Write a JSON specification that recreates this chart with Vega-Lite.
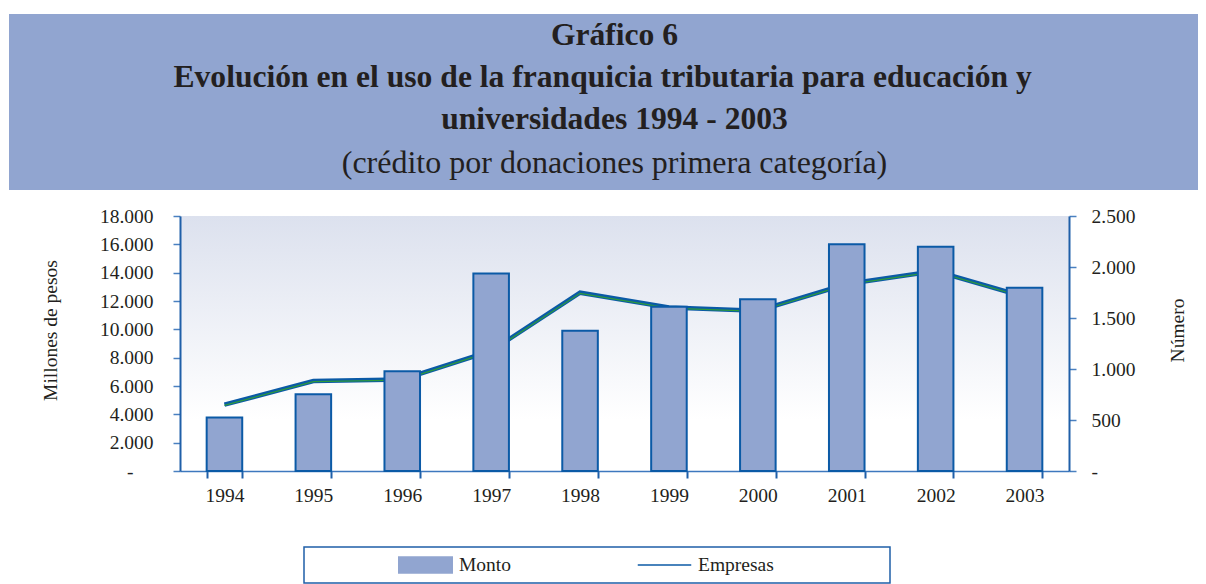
{
  "$schema": "https://vega.github.io/schema/vega-lite/v6.json",
  "padding": {"left": 9, "top": 14, "right": 0, "bottom": 0},
  "background": "white",
  "config": {
    "font": "Liberation Serif",
    "axis": {"labelFont": "Liberation Serif", "titleFont": "Liberation Serif", "labelColor": "#231F20", "titleColor": "#231F20", "labelFontSize": 19.5, "titleFontSize": 19.5, "titleFontWeight": "normal", "grid": false}
  },
  "spacing": 26,
  "bounds": "flush",
  "vconcat": [
    {
      "width": 1189,
      "height": 176,
      "view": {"fill": "#91A5D0", "stroke": null},
      "title": {
        "text": ["Gráfico 6", "Evolución en el uso de la franquicia tributaria para educación y\u00a0\u00a0\u00a0\u200b", "universidades 1994 - 2003"],
        "subtitle": "(crédito por donaciones primera categoría)",
        "orient": "bottom", "anchor": "middle", "frame": "group", "offset": -170, "baseline": "top", "dx": 11,
        "font": "Liberation Serif", "fontSize": 31.6, "fontWeight": "bold", "color": "#231F20", "lineHeight": 42,
        "subtitleFont": "Liberation Serif", "subtitleFontSize": 32, "subtitleFontWeight": "normal", "subtitleColor": "#231F20", "subtitlePadding": 12
      },
      "data": {"values": []},
      "mark": "text"
    },
    {
      "spacing": 0,
      "bounds": "flush",
      "hconcat": [
        {
          "width": 171, "height": 255,
          "view": {"stroke": null, "fill": null},
          "data": {"values": []},
          "mark": "point"
        },
        {
          "width": 889, "height": 255,
          "view": {"stroke": null, "fill": {"gradient": "linear", "x1": 0, "y1": 0, "x2": 0, "y2": 1, "stops": [{"offset": 0, "color": "#DCE1EE"}, {"offset": 0.8, "color": "#FFFFFF"}]}},
          "data": {"values": [
            {"anio": "1994", "monto": 3770, "empresas": 650},
            {"anio": "1995", "monto": 5410, "empresas": 882},
            {"anio": "1996", "monto": 7040, "empresas": 897},
            {"anio": "1997", "monto": 13950, "empresas": 1178},
            {"anio": "1998", "monto": 9900, "empresas": 1748},
            {"anio": "1999", "monto": 11600, "empresas": 1603},
            {"anio": "2000", "monto": 12120, "empresas": 1570},
            {"anio": "2001", "monto": 16000, "empresas": 1833},
            {"anio": "2002", "monto": 15830, "empresas": 1960},
            {"anio": "2003", "monto": 12940, "empresas": 1708}
          ]},
          "encoding": {
            "x": {"field": "anio", "type": "ordinal", "scale": {"paddingInner": 0.6, "paddingOuter": 0.3},
              "axis": {"title": null, "labelAngle": 0, "tickBand": "extent", "domainColor": "#3D78BE", "domainWidth": 1.5, "tickColor": "#1F5FA8", "tickWidth": 2, "tickSize": 7, "labelPadding": 8}}
          },
          "layer": [
            {
              "encoding": {
                "y": {"field": "empresas", "type": "quantitative", "scale": {"domain": [0, 2500], "nice": false},
                  "axis": {"orient": "right", "title": "Número", "values": [0, 500, 1000, 1500, 2000, 2500],
                    "labelExpr": "datum.value == 0 ? '-' : replace(format(datum.value, ','), ',', '.')",
                    "domainColor": "#1F5FA8", "domainWidth": 2, "tickColor": "#4A80C0", "tickWidth": 1.5, "tickSize": 7, "labelPadding": 15,
                    "titleAngle": 270, "titleX": 108, "titleY": 114, "titleAlign": "center", "titleBaseline": "middle"}}
              },
              "layer": [
                {
                  "mark": {"type": "line", "strokeWidth": 4.5},
                  "encoding": {
                    "color": {"datum": "Empresas", "type": "nominal",
                      "scale": {"domain": ["Monto", "Empresas"], "range": ["#91A5D0", "#0B5AA6"]},
                      "legend": {
                        "orient": "none", "legendX": 295, "legendY": 533, "direction": "horizontal",
                        "title": "\u00a0", "titleOrient": "left", "titlePadding": 86, "titleFontSize": 19.5, "titleFont": "Liberation Serif",
                        "padding": 8, "strokeColor": "#1F5FA8", "fillColor": "white",
                        "labelFont": "Liberation Serif", "labelFontSize": 19.5, "labelColor": "#231F20", "labelOffset": 6, "labelLimit": 400,
                        "columnPadding": 125, "clipHeight": 20, "symbolSize": 2862, "symbolStrokeWidth": 1.5,
                        "labelExpr": "datum.label == 'Empresas' ? datum.label + '\u00a0\u00a0\u00a0\u00a0\u00a0\u00a0\u00a0\u00a0\u00a0\u00a0\u00a0\u00a0\u00a0\u00a0\u00a0\u00a0\u00a0\u00a0\u00a0\u00a0\u00a0\u00a0\u200b' : datum.label",
                        "encode": {
                          "legend": {"update": {"strokeWidth": {"value": 1.5}}},
                          "symbols": {"update": {
                            "shape": {"signal": "datum.value == 'Monto' ? 'M-1,-0.3H1V0.3H-1Z' : 'stroke'"},
                            "fill": {"signal": "datum.value == 'Monto' ? '#91A5D0' : 'transparent'"},
                            "stroke": {"value": "#0B5AA6"},
                            "strokeWidth": {"value": 1.5},
                            "size": {"value": 2862},
                            "opacity": {"value": 1}
                          }}
                        }
                      }
                    }
                  }
                },
                {
                  "mark": {"type": "line", "color": "#2E9A3C", "strokeWidth": 1.2, "yOffset": 0.6},
                  "encoding": {}
                }
              ]
            },
            {
              "mark": {"type": "bar", "stroke": "#0B5AA6", "strokeWidth": 2, "fillOpacity": 1},
              "encoding": {
                "y": {"field": "monto", "type": "quantitative", "scale": {"domain": [0, 18000], "nice": false},
                  "axis": {"orient": "left", "title": "Millones de pesos", "values": [0, 2000, 4000, 6000, 8000, 10000, 12000, 14000, 16000, 18000],
                    "labelExpr": "datum.value == 0 ? '-' : replace(format(datum.value, ','), ',', '.')",
                    "domainColor": "#1F5FA8", "domainWidth": 2, "tickColor": "#4A80C0", "tickWidth": 1.5, "tickSize": 7,
                    "labelPadding": {"condition": {"test": "datum.value == 0", "value": 40}, "value": 20},
                    "titleAngle": 270, "titleX": -130, "titleY": 114, "titleAlign": "center", "titleBaseline": "middle"}},
                "color": {"datum": "Monto", "type": "nominal"}
              }
            }
          ],
          "resolve": {"scale": {"y": "independent"}}
        }
      ]
    }
  ]
}
